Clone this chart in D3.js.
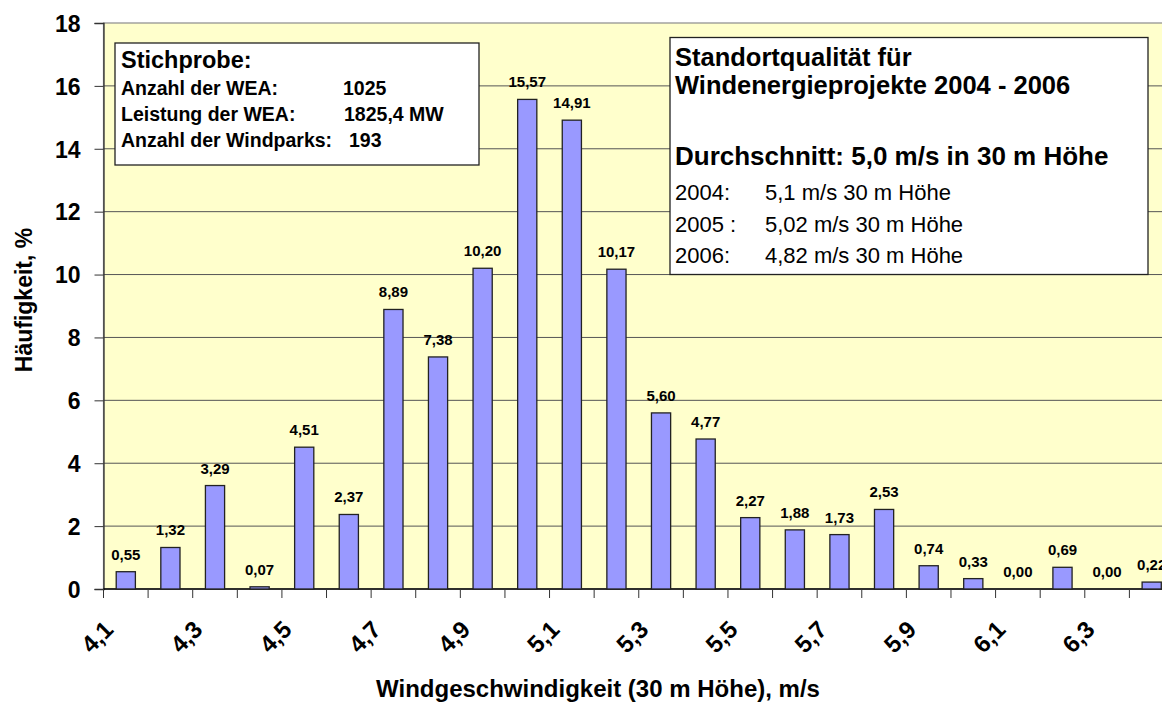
<!DOCTYPE html>
<html>
<head>
<meta charset="utf-8">
<script src="https://cdn.jsdelivr.net/npm/d3@7"></script>
<style>
    body { margin: 0; background: #fff; }
    div.container { width: 1162px; height: 705px; overflow: hidden; }
    text { font-family: Arial, "Liberation Sans", sans-serif; }
</style>
</head>
<body>
<div class="container"></div>
<script>
// wind speed classes (30 m height), m/s
const CATEGORIES = ['4,1', '4,2', '4,3', '4,4', '4,5', '4,6', '4,7', '4,8', '4,9', '5,0', '5,1', '5,2',
    '5,3', '5,4', '5,5', '5,6', '5,7', '5,8', '5,9', '6,0', '6,1', '6,2', '6,3', '6,4']

// frequency, %
const FREQUENCY = [0.55, 1.32, 3.29, 0.07, 4.51, 2.37, 8.89, 7.38, 10.20, 15.57, 14.91, 10.17,
    5.60, 4.77, 2.27, 1.88, 1.73, 2.53, 0.74, 0.33, 0.00, 0.69, 0.00, 0.22]

// only every second class gets a label
const X_TICK_LABELS = ['4,1', '4,3', '4,5', '4,7', '4,9', '5,1', '5,3', '5,5', '5,7', '5,9', '6,1', '6,3']
const Y_TICKS = [0, 2, 4, 6, 8, 10, 12, 14, 16, 18]

// text of the two boxes
const SAMPLE_TITLE = 'Stichprobe:'
const SAMPLE_LABELS = ['Anzahl der WEA:', 'Leistung der WEA:', 'Anzahl der Windparks:']
const SAMPLE_VALUES = ['1025', '1825,4 MW', '193']
const QUALITY_TITLE = ['Standortqualität für', 'Windenergieprojekte 2004 - 2006']
const QUALITY_MEAN = 'Durchschnitt: 5,0 m/s in 30 m Höhe'
const QUALITY_YEARS = ['2004:', '2005 :', '2006:']
const QUALITY_VALUES = ['5,1 m/s 30 m Höhe', '5,02 m/s 30 m Höhe', '4,82 m/s 30 m Höhe']

class Chart {
    constructor(div) {
        this.div = div
    }

    setDimensions() {
        this.width = 1162
        this.height = 705
        // plot area, runs past the right edge like the original
        this.plot = { left: 103.5, top: 23, right: 1174, bottom: 589 }
    }

    createGraph() {
        const p = this.plot

        this.x = d3.scaleBand()
            .domain(CATEGORIES)
            .range([p.left, p.right])
            .paddingInner(0.57)
            .paddingOuter(0.285)

        this.y = d3.scaleLinear()
            .domain([0, 18])
            .range([p.bottom, p.top])

        this.svg = d3.select(this.div).append('svg')
            .attr('width', this.width)
            .attr('height', this.height)

        // plot background
        this.svg.append('rect')
            .attr('x', p.left).attr('y', p.top)
            .attr('width', p.right - p.left).attr('height', p.bottom - p.top)
            .attr('fill', '#ffffcc')
            .attr('stroke', '#8c8c8c')
            .attr('stroke-width', 1.2)

        // gridlines
        this.svg.append('g')
            .selectAll('line')
            .data(Y_TICKS.filter(d => d > 0 && d < 18))
            .enter().append('line')
            .attr('x1', p.left).attr('x2', p.right)
            .attr('y1', d => this.y(d)).attr('y2', d => this.y(d))
            .attr('stroke', '#555')
            .attr('stroke-width', 1)

        // y axis
        const yAxis = this.svg.append('g')
            .attr('transform', `translate(${p.left},0)`)
            .call(d3.axisLeft(this.y).tickValues(Y_TICKS).tickSize(9).tickPadding(14))
        yAxis.select('.domain').attr('stroke', '#333').attr('stroke-width', 1.3)
        yAxis.selectAll('.tick line').attr('stroke', '#333')
        yAxis.selectAll('.tick text')
            .attr('font-size', 23).attr('font-weight', 'bold').attr('fill', '#000')
            .attr('dy', '0.36em')

        // x axis: ticks at class boundaries
        const step = this.x.step()
        const bounds = d3.range(CATEGORIES.length + 1).map(i => p.left + i * step)
        const xAxis = this.svg.append('g')
        xAxis.append('line')
            .attr('x1', p.left).attr('x2', p.right)
            .attr('y1', p.bottom).attr('y2', p.bottom)
            .attr('stroke', '#000').attr('stroke-width', 1.3)
        xAxis.selectAll('line.tick')
            .data(bounds)
            .enter().append('line')
            .attr('class', 'tick')
            .attr('x1', d => d).attr('x2', d => d)
            .attr('y1', p.bottom).attr('y2', p.bottom + 9)
            .attr('stroke', '#333')

        // rotated class labels
        xAxis.selectAll('text')
            .data(X_TICK_LABELS)
            .enter().append('text')
            .attr('transform', d => {
                const cx = this.x(d) + this.x.bandwidth() / 2
                return `translate(${cx - 11},${p.bottom + 42}) rotate(-45)`
            })
            .attr('text-anchor', 'end')
            .attr('font-size', 24)
            .attr('font-weight', 'bold')
            .text(d => d)

        // bars
        this.svg.append('g')
            .selectAll('rect')
            .data(FREQUENCY)
            .enter().append('rect')
            .attr('x', (d, i) => this.x(CATEGORIES[i]))
            .attr('y', d => this.y(d))
            .attr('width', this.x.bandwidth())
            .attr('height', d => this.y(0) - this.y(d))
            .attr('fill', '#9999ff')
            .attr('stroke', '#222')
            .attr('stroke-width', 1.3)

        // data labels
        this.svg.append('g')
            .selectAll('text')
            .data(FREQUENCY)
            .enter().append('text')
            .attr('x', (d, i) => this.x(CATEGORIES[i]) + this.x.bandwidth() / 2)
            .attr('y', d => this.y(d) - 12)
            .attr('text-anchor', 'middle')
            .attr('font-size', 15)
            .attr('font-weight', 'bold')
            .text(d => d3.format('.2f')(d).replace('.', ','))

        // axis titles
        this.svg.append('text')
            .attr('transform', 'translate(32,300) rotate(-90)')
            .attr('text-anchor', 'middle')
            .attr('font-size', 23)
            .attr('font-weight', 'bold')
            .text('Häufigkeit, %')

        this.svg.append('text')
            .attr('x', 598).attr('y', 697)
            .attr('text-anchor', 'middle')
            .attr('font-size', 24)
            .attr('font-weight', 'bold')
            .text('Windgeschwindigkeit (30 m Höhe), m/s')

        this.drawBoxes()
    }

    drawBoxes() {
        // sample box, top left
        const left = this.svg.append('g')
        left.append('rect')
            .attr('x', 115).attr('y', 43).attr('width', 364).attr('height', 122)
            .attr('fill', '#fff').attr('stroke', '#222').attr('stroke-width', 1.3)
        left.append('text')
            .attr('x', 121).attr('y', 68)
            .attr('font-size', 23.5).attr('font-weight', 'bold')
            .text(SAMPLE_TITLE)
        const valueX = [343, 344, 349]
        SAMPLE_LABELS.forEach((label, i) => {
            left.append('text')
                .attr('x', 121).attr('y', 95 + i * 26)
                .attr('font-size', 19.5).attr('font-weight', 'bold')
                .text(label)
            left.append('text')
                .attr('x', valueX[i]).attr('y', 95 + i * 26)
                .attr('font-size', 19.5).attr('font-weight', 'bold')
                .text(SAMPLE_VALUES[i])
        })

        // site quality box, top right
        const right = this.svg.append('g')
        right.append('rect')
            .attr('x', 670).attr('y', 37.5).attr('width', 478).attr('height', 237)
            .attr('fill', '#fff').attr('stroke', '#222').attr('stroke-width', 1.3)
        QUALITY_TITLE.forEach((line, i) => {
            right.append('text')
                .attr('x', 675).attr('y', 66 + i * 28)
                .attr('font-size', 25.5).attr('font-weight', 'bold')
                .text(line)
        })
        right.append('text')
            .attr('x', 675).attr('y', 165)
            .attr('font-size', 26).attr('font-weight', 'bold')
            .text(QUALITY_MEAN)
        const yearY = [200, 232, 263]
        QUALITY_YEARS.forEach((year, i) => {
            right.append('text')
                .attr('x', 675).attr('y', yearY[i])
                .attr('font-size', 22)
                .text(year)
            right.append('text')
                .attr('x', 765).attr('y', yearY[i])
                .attr('font-size', 22)
                .text(QUALITY_VALUES[i])
        })
    }

    run() {
        this.setDimensions()
        this.createGraph()
    }
}

let container = document.querySelector('div.container')
let chart = new Chart(container)
chart.run()
</script>
</body>
</html>
